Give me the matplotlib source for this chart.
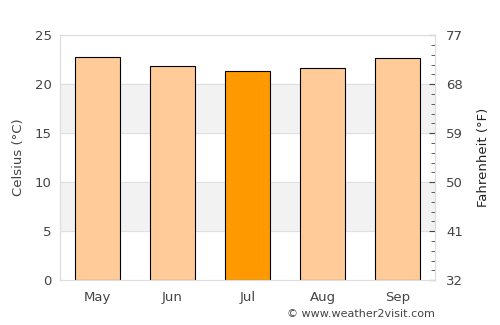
import matplotlib.pyplot as plt
import numpy as np

months = ['May', 'Jun', 'Jul', 'Aug', 'Sep']
temps_c = [22.8, 21.8, 21.3, 21.6, 22.7]
highlight = 'Jul'

fig = plt.figure(figsize=(5, 3.25), dpi=100)
ax = fig.add_axes([0.12, 0.138, 0.75, 0.754])

text_col = '#444444'
colors = ['#ff9900' if m == highlight else '#ffcc99' for m in months]

# alternating background bands
for lo in (5, 15):
    ax.axhspan(lo, lo + 5, color='#f2f2f2', zorder=0)
for y in (5, 10, 15, 20):
    ax.axhline(y, color='#e0e0e0', linewidth=0.8, zorder=0.5)

x = np.arange(len(months))
ax.bar(x, temps_c, width=0.6, color=colors, edgecolor='black', linewidth=0.8, zorder=2)

ax.set_xlim(-0.5, len(months) - 0.5)
ax.set_ylim(0, 25)
ax.set_xticks(x)
ax.set_xticklabels(months)
ax.set_yticks(range(0, 26, 5))
ax.tick_params(axis='both', length=0, colors=text_col, labelsize=9.5, pad=6)
ax.tick_params(axis='x', pad=8)
ax.set_ylabel('Celsius (°C)', color=text_col, fontsize=9.5, labelpad=7)
for s in ax.spines.values():
    s.set_color('#dddddd')

# Fahrenheit axis
ax2 = ax.twinx()
ax2.set_ylim(32, 77)
ax2.set_yticks(range(32, 78, 9))
ax2.set_yticks(np.arange(32, 77.01, 1.8), minor=True)
ax2.tick_params(axis='y', which='major', direction='in', length=4, colors=text_col,
                labelsize=9.5, pad=8)
ax2.tick_params(axis='y', which='minor', direction='in', length=3, color=text_col)
ax2.set_ylabel('Fahrenheit (°F)', color='#222222', fontsize=9.5, labelpad=10)
for s in ax2.spines.values():
    s.set_color('#dddddd')

fig.text(0.87, 0.035, '© www.weather2visit.com', ha='right', va='center',
         fontsize=8, color=text_col)

fig.savefig('out.png', dpi=100)
